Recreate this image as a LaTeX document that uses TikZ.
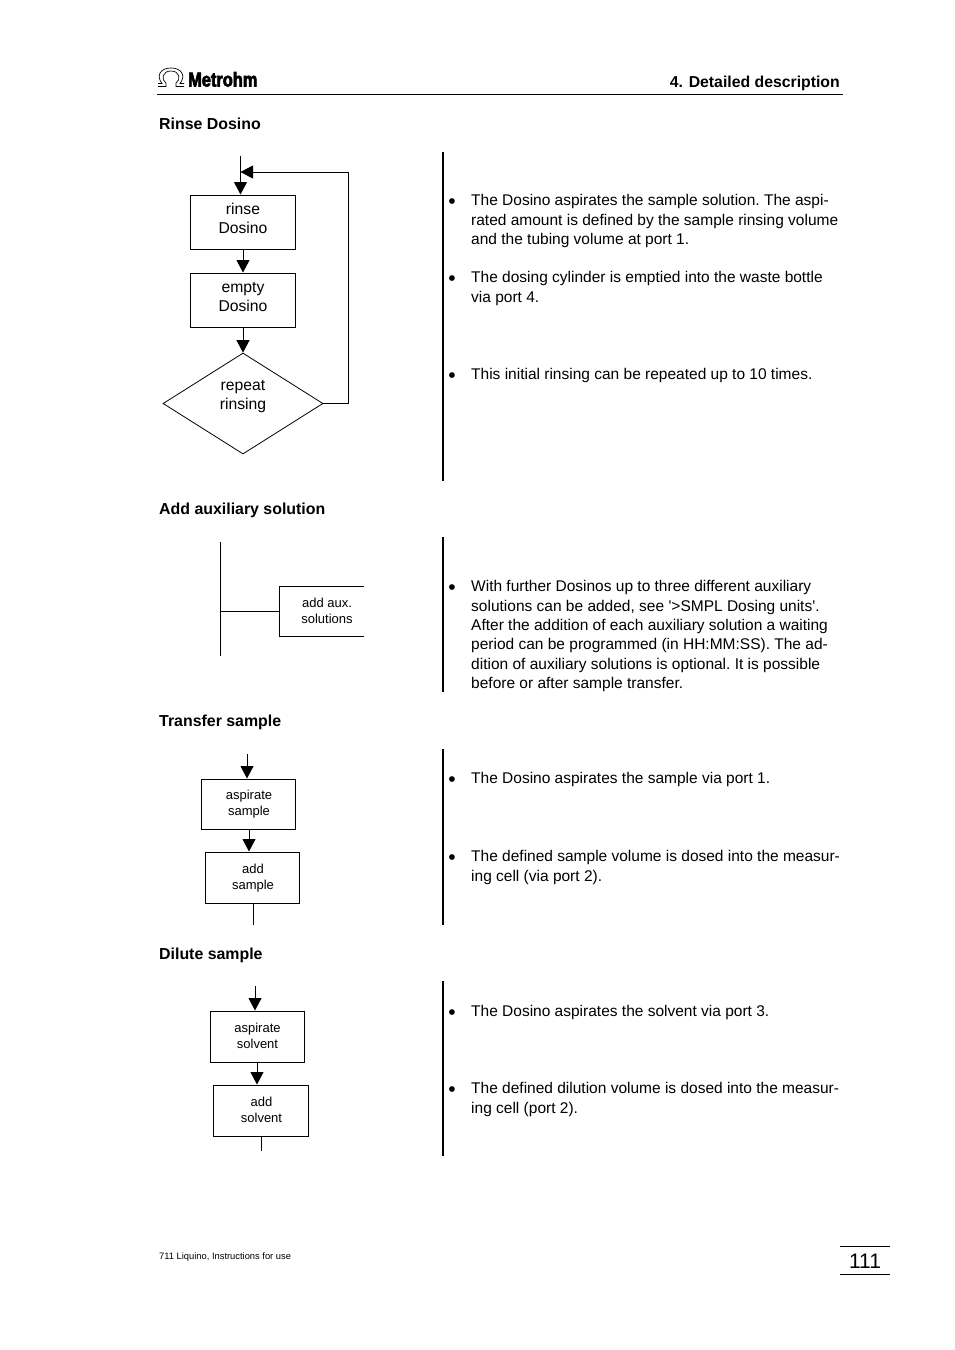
\documentclass[tikz,border=0pt]{standalone}
\usepackage{fontspec}
\setmainfont{Liberation Sans}
\newfontfamily\plainquote{Liberation Sans}
\newfontfamily\logofont[FakeBold=3,FakeStretch=0.82]{Liberation Sans Bold}
\usetikzlibrary{arrows.meta,shapes.geometric}
\tikzset{
  flowbox/.style={draw,line width=1pt,inner sep=0pt},
  flowtext/.style={align=center,font=\fontsize{15.7}{19}\selectfont},
  smalltext/.style={align=center,font=\fontsize{13}{16}\selectfont},
  flowline/.style={line width=1pt},
  flowarrow/.style={line width=1pt,-{Triangle[length=12.5pt,width=13pt]}},
  sidebar/.style={line width=2pt},
  heading/.style={anchor=base west,font=\fontsize{15.9}{19}\bfseries\selectfont,inner sep=0pt},
  bodytext/.style={anchor=north west,align=left,inner sep=0pt,font=\fontsize{15.5}{19.3}\selectfont\frenchspacing},
}
\newcommand{\bulletitem}[3]{%
\node[anchor=base,inner sep=0pt,font=\fontsize{21}{21}\selectfont] (#1dot) at (452,#2+15.5) {\textbullet};
\node[bodytext] (#1) at (471,#2+1.5) {#3};}
\begin{document}
\begin{tikzpicture}[x=1pt,y=-1pt]
\useasboundingbox (0,0) rectangle (954,1350);
\fill[white] (0,0) rectangle (954,1350);
%%%% page head
\draw[line width=0.7pt] (158,86.5) -- (166,86.5) -- (166,83) .. controls (161,80) and (162,71) .. (171,71) .. controls (180,71) and (181,80) .. (176,83) -- (176,86.5) -- (184,86.5);
\draw[line width=0.7pt] (158,83.5) -- (162,83.5) .. controls (156,76) and (160,68) .. (171,68) .. controls (182,68) and (186,76) .. (180,83.5) -- (184,83.5);
\node[anchor=base west,inner sep=0pt,font=\logofont\fontsize{20}{20}\selectfont] (logo) at (188,86.5) {Metrohm};
\node[anchor=base east,inner sep=0pt,font=\fontsize{15.8}{19}\bfseries\selectfont] (chapter) at (840,87.5) {4. Detailed description};
\draw[line width=1pt] (157,94) -- (843,94);
%%%% rinse
\node[heading] (rinsehead) at (159,129) {Rinse Dosino};
\node[flowbox,minimum width=105pt,minimum height=54pt,
  label={[flowtext,yshift=3.5pt]center:rinse\\Dosino}] (rinse) at (243,222) {};
\node[flowbox,minimum width=105pt,minimum height=54pt,
  label={[flowtext,yshift=3.5pt]center:empty\\Dosino}] (empty) at (243,300) {};
\node[draw,line width=0.8pt,diamond,aspect=1.58,inner sep=0pt,minimum width=160pt,minimum height=101pt,
  label={[flowtext,yshift=7pt]center:repeat\\rinsing}] (repeat) at (243,403.5) {};
\coordinate (rinsein) at (240.5,156);
\coordinate (backtop) at (348,172);
\draw[flowarrow] (rinsein) -- (rinsein |- rinse.north);
\draw[flowarrow] (rinse) -- (empty.north);
\draw[flowarrow] (empty) -- (repeat.north);
\draw[flowarrow] (repeat.east) -| (backtop) -- (rinsein |- backtop);
\draw[sidebar] (443,152) -- (443,481);
\bulletitem{rinseone}{193}{The Dosino aspirates the sample solution. The aspi-\\rated amount is defined by the sample rinsing volume\\and the tubing volume at port 1.}
\bulletitem{rinsetwo}{270}{The dosing cylinder is emptied into the waste bottle\\via port 4.}
\bulletitem{rinsethree}{367}{This initial rinsing can be repeated up to 10 times.}
%%%% auxiliary
\node[heading] (auxhead) at (159,514) {Add auxiliary solution};
\coordinate (auxtop) at (220.5,542);
\coordinate (auxbot) at (220.5,656);
\draw[flowline] (auxtop) -- (auxbot);
\node[smalltext] (aux) at (327,610.5) {add aux.\\solutions};
\coordinate (auxnw) at (364,586);
\coordinate (auxsw) at (364,636);
\draw[flowline] (auxnw) -- (279,586) -- (279,636) -- (auxsw);
\draw[flowline] (auxtop |- 279,611) -- (279,611);
\draw[sidebar] (443,537) -- (443,692);
\bulletitem{auxone}{579}{With further Dosinos up to three different auxiliary\\solutions can be added, see {\plainquote'}>SMPL Dosing units{\plainquote'}.\\After the addition of each auxiliary solution a waiting\\period can be programmed (in HH:MM:SS). The ad-\\dition of auxiliary solutions is optional. It is possible\\before or after sample transfer.}
%%%% transfer
\node[heading] (transferhead) at (159,726) {Transfer sample};
\node[flowbox,minimum width=94pt,minimum height=50pt,
  label={[smalltext,xshift=1pt]center:aspirate\\sample}] (aspsample) at (248,804) {};
\node[flowbox,minimum width=94pt,minimum height=51pt,
  label={[smalltext,xshift=0.5pt,yshift=-1pt]center:add\\sample}] (addsample) at (252.5,877.5) {};
\coordinate (samplein) at (247,754);
\coordinate (sampleout) at (253,925);
\draw[flowarrow] (samplein) -- (samplein |- aspsample.north);
\draw[flowarrow] ([xshift=1pt]aspsample.south) -- ([xshift=-3.5pt]addsample.north);
\draw[flowline] (sampleout |- addsample.south) -- (sampleout);
\draw[sidebar] (443,749) -- (443,925);
\bulletitem{transferone}{771}{The Dosino aspirates the sample via port 1.}
\bulletitem{transfertwo}{849}{The defined sample volume is dosed into the measur-\\ing cell (via port 2).}
%%%% dilute
\node[heading] (dilutehead) at (159,959) {Dilute sample};
\node[flowbox,minimum width=94pt,minimum height=51pt,
  label={[smalltext,xshift=0.5pt,yshift=1pt]center:aspirate\\solvent}] (aspsolvent) at (257,1036.5) {};
\node[flowbox,minimum width=95pt,minimum height=51pt,
  label={[smalltext,xshift=1pt,yshift=1pt]center:add\\solvent}] (addsolvent) at (260.5,1110.5) {};
\coordinate (solventin) at (255,986);
\coordinate (solventout) at (261,1151);
\draw[flowarrow] (solventin) -- (solventin |- aspsolvent.north);
\draw[flowarrow] (aspsolvent.south) -- ([xshift=-3.5pt]addsolvent.north);
\draw[flowline] (solventout |- addsolvent.south) -- (solventout);
\draw[sidebar] (443,981) -- (443,1156);
\bulletitem{diluteone}{1004}{The Dosino aspirates the solvent via port 3.}
\bulletitem{dilutetwo}{1081}{The defined dilution volume is dosed into the measur-\\ing cell (port 2).}
%%%% page foot
\node[anchor=base west,inner sep=0pt,font=\fontsize{9.35}{11}\selectfont] (footer) at (159,1259) {711 Liquino, Instructions for use};
\draw[line width=1pt] (840,1246.5) -- (890,1246.5);
\draw[line width=1pt] (840,1274) -- (890,1274);
\node[anchor=base,inner sep=0pt,font=\fontsize{21}{24}\selectfont] (pageno) at (865,1268) {111};
\end{tikzpicture}
\end{document}
